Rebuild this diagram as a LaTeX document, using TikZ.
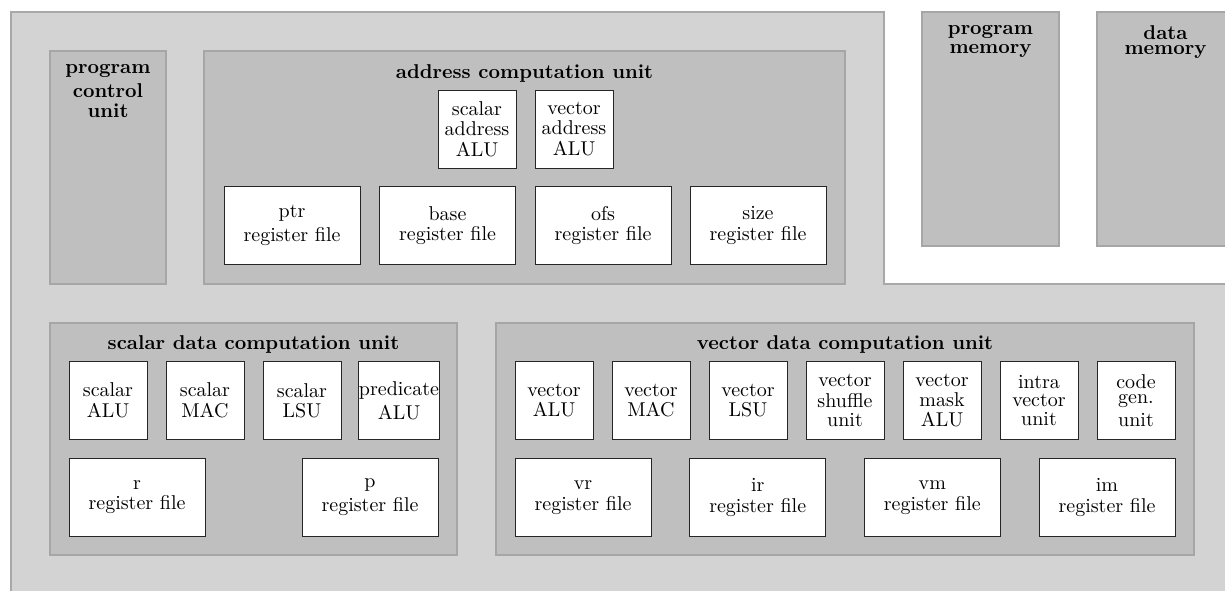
\documentclass[tikz,border=0pt]{standalone}
\usetikzlibrary{positioning}
\definecolor{areafill}{RGB}{211,211,211}
\definecolor{arealine}{RGB}{168,168,168}
\definecolor{unitfill}{RGB}{191,191,191}
\definecolor{unitline}{RGB}{166,166,166}
\tikzset{
  outerarea/.style={fill=areafill, draw=arealine, line width=1pt},
  unitbox/.style={fill=unitfill, draw=unitline, line width=0.75pt},
  unittitle/.style={inner sep=0pt, anchor=north, font=\bfseries},
  fubox/.style={draw=black!85, fill=white, line width=0.5pt, inner sep=0pt,
                minimum width=39pt, minimum height=39pt},
  regbox/.style={fubox, minimum width=68pt},
}
\begin{document}
\begin{tikzpicture}[x=0.5pt, y=-0.5pt]
  \useasboundingbox (0,0) rectangle (1225,590);
  \clip (0,0) rectangle (1225,590);

  % processor core area
  \path[outerarea] (11,610) -- (11,12) -- (884,12) -- (884,284) -- (1250,284) -- (1250,610) -- cycle;

  % memories
  \path[unitbox] (922,12) rectangle (1059,246);
  \node[unittitle] (pmemt) at (990.5,25) {\shortstack{program\\memory}};
  \path[unitbox] (1097,12) rectangle (1234,246);
  \node[unittitle] (dmemt) at (1165.5,25) {\shortstack{data\\memory}};

  % program control unit
  \path[unitbox] (50,51) rectangle (166,284);
  \node[unittitle] (pcut) at (108,64) {\shortstack{program\\control\\unit}};

  % address computation unit
  \path[unitbox] (204,51) rectangle (845,284);
  \node[unittitle] (acut) at (524.5,64) {address computation unit};
  \node[fubox] (saalu) at (477,129) {\shortstack{scalar\\address\\ALU}};
  \node[fubox] (vaalu) at (574,129) {\shortstack{vector\\address\\ALU}};
  \node[regbox] (ptrrf)  at (292,225.5)   {\shortstack{ptr\\register file}};
  \node[regbox] (baserf) at (447.5,225.5) {\shortstack{base\\register file}};
  \node[regbox] (ofsrf)  at (603,225.5)   {\shortstack{ofs\\register file}};
  \node[regbox] (sizerf) at (758,225.5)   {\shortstack{size\\register file}};

  % scalar data computation unit
  \path[unitbox] (50,323) rectangle (457,555);
  \node[unittitle] (sdcut) at (253.5,335) {scalar data computation unit};
  \node[fubox] (salu)  at (108,400.5) {\shortstack{scalar\\ALU}};
  \node[fubox] (smac)  at (205,400.5) {\shortstack{scalar\\MAC}};
  \node[fubox] (slsu)  at (302,400.5) {\shortstack{scalar\\LSU}};
  \node[fubox] (palu)  at (399,400.5) {\shortstack{predicate\\ALU}};
  \node[regbox] (rrf)  at (137,497.5) {\shortstack{r\\register file}};
  \node[regbox] (prf)  at (370,497.5) {\shortstack{p\\register file}};

  % vector data computation unit
  \path[unitbox] (496,323) rectangle (1194,555);
  \node[unittitle] (vdcut) at (845,335) {vector data computation unit};
  \node[fubox] (valu)  at (554,400.5)  {\shortstack{vector\\ALU}};
  \node[fubox] (vmac)  at (651,400.5)  {\shortstack{vector\\MAC}};
  \node[fubox] (vlsu)  at (748,400.5)  {\shortstack{vector\\LSU}};
  \node[fubox] (vshuf) at (845,400.5)  {\shortstack{vector\\shuffle\\unit}};
  \node[fubox] (vmalu) at (942,400.5)  {\shortstack{vector\\mask\\ALU}};
  \node[fubox] (intra) at (1039,400.5) {\shortstack{intra\\vector\\unit}};
  \node[fubox] (cgen)  at (1136,400.5) {\shortstack{code\\gen.\\unit}};
  \node[regbox] (vrrf) at (583,497.5)    {\shortstack{vr\\register file}};
  \node[regbox] (irrf) at (757.7,497.5)  {\shortstack{ir\\register file}};
  \node[regbox] (vmrf) at (932.3,497.5)  {\shortstack{vm\\register file}};
  \node[regbox] (imrf) at (1107,497.5)   {\shortstack{im\\register file}};
\end{tikzpicture}
\end{document}
